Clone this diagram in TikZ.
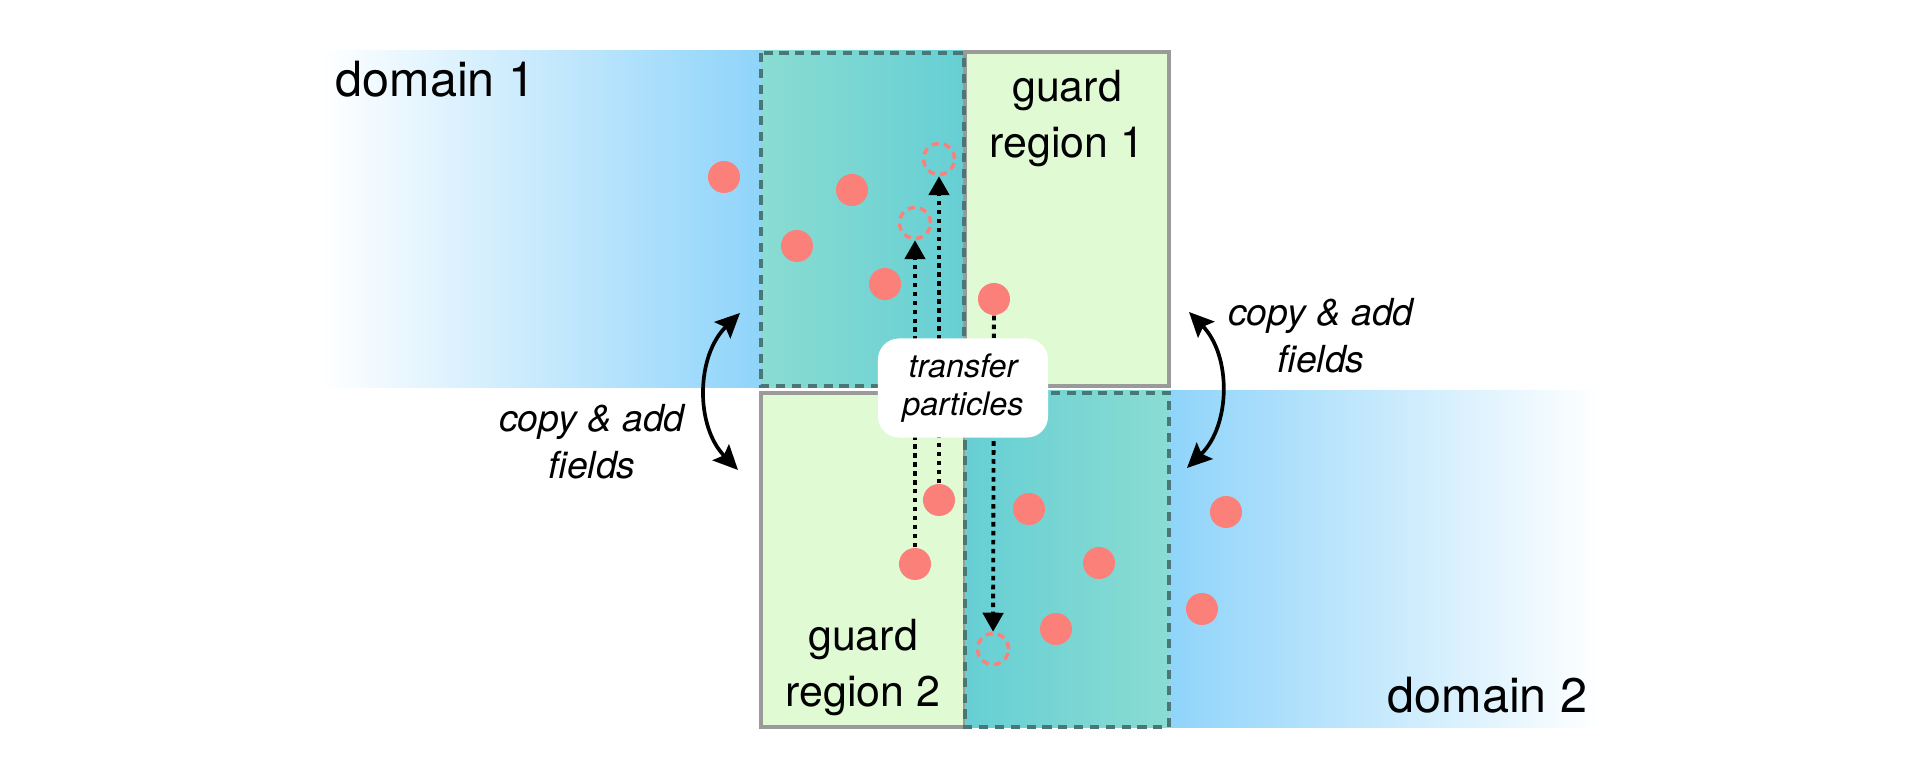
\documentclass[tikz,border=0pt]{standalone}
\usepackage{fontspec}
\setmainfont{TeX Gyre Heros}
\usetikzlibrary{arrows.meta}
\definecolor{dblue}{HTML}{8FD4FA}
\definecolor{tealL}{HTML}{8ADCD2}
\definecolor{tealD}{HTML}{66CFD4}
\definecolor{gfill}{HTML}{E0FAD4}
\definecolor{gborder}{HTML}{9A9A9A}
\definecolor{dborder}{HTML}{4A7775}
\definecolor{salmon}{HTML}{FB807A}
\begin{document}
\begin{tikzpicture}[x=0.01cm,y=-0.01cm,
  guardbox/.style={fill=gfill,draw=gborder,line width=0.9pt},
  dashbox/.style={draw=dborder,line width=0.9pt,dash pattern=on 2.6pt off 1.9pt},
  particle/.style={circle,fill=salmon,minimum size=0.32cm,inner sep=0pt},
  ghost/.style={circle,draw=salmon,line width=1pt,dash pattern=on 2pt off 1.5pt,minimum size=0.31cm,inner sep=0pt},
  movearrow/.style={line width=1.1pt,dash pattern=on 1.3pt off 1.25pt,-{Triangle[length=5.4pt,width=5.8pt]}},
  copyarrow/.style={line width=1.05pt,{Stealth[length=7pt,width=6.5pt,inset=1.2pt]}-{Stealth[length=7pt,width=6.5pt,inset=1.2pt]}},
  domlabel/.style={font=\fontsize{13.8}{16}\selectfont,inner sep=0pt},
  guardlabel/.style={font=\fontsize{12.2}{15.9}\selectfont,align=center,inner sep=0pt},
  copylabel/.style={font=\itshape\fontsize{10.6}{13.4}\selectfont,align=center,inner sep=0pt},
  transferlabel/.style={fill=white,rounded corners=6pt,minimum width=1.7cm,minimum height=0.99cm,align=center,font=\itshape\fontsize{9.2}{10.8}\selectfont,inner sep=0pt}
]
\useasboundingbox (0,0) rectangle (1926,780);

% domain 1 and its shared region
\shade[left color=white,right color=dblue] (320,51) rectangle (761,388);
\shade[left color=tealL,right color=tealD] (761,51) rectangle (964,388);
\draw[guardbox] (965,52) rectangle (1169,386);
\draw[dashbox] (761,53) rectangle (964,386);

% domain 2 and its shared region
\shade[left color=dblue,right color=white] (1169,391) rectangle (1600,728);
\draw[guardbox] (761,393) rectangle (965,727);
\shade[left color=tealD,right color=tealL] (965,391) rectangle (1169,728);
\draw[dashbox] (965,393) rectangle (1169,727);

% labels
\node[domlabel,anchor=base west] (d1) at (335,97) {domain 1};
\node[domlabel,anchor=base east] (d2) at (1588,713) {domain 2};
\node[guardlabel] (g1) at (1067,119) {guard\\region 1};
\node[guardlabel] (g2) at (863,668) {guard\\region 2};

% particles domain 1
\node[particle] (a1) at (724,177) {};
\node[particle] (a2) at (852,190) {};
\node[particle] (a3) at (797,246) {};
\node[particle] (a4) at (885,284) {};
\node[particle] (a5) at (994,299) {};
\node[ghost] (ga1) at (939,159) {};
\node[ghost] (ga2) at (915,223) {};

% particles domain 2
\node[particle] (b1) at (939,500) {};
\node[particle] (b2) at (915,564) {};
\node[particle] (b3) at (1029,509) {};
\node[particle] (b4) at (1099,563) {};
\node[particle] (b5) at (1056,629) {};
\node[particle] (b6) at (1226,512) {};
\node[particle] (b7) at (1202,609) {};
\node[ghost] (gb1) at (993,649) {};

% transfers
\draw[movearrow] (b1) -- (ga1);
\draw[movearrow] (b2) -- (ga2);
\draw[movearrow] (a5) -- (gb1);

\node[transferlabel] (tp) at (963,388) {transfer\\particles};

% copy & add fields
\coordinate (cl1) at (740,313);
\coordinate (cl2) at (738,470);
\coordinate (cr1) at (1189,312);
\coordinate (cr2) at (1187,468);
\draw[copyarrow] (cl1) to[bend right=45] (cl2);
\draw[copyarrow] (cr1) to[bend left=45] (cr2);
\node[copylabel] (cpl) at (592,442) {copy \& add\\fields};
\node[copylabel] (cpr) at (1321,336) {copy \& add\\fields};
\end{tikzpicture}
\end{document}
